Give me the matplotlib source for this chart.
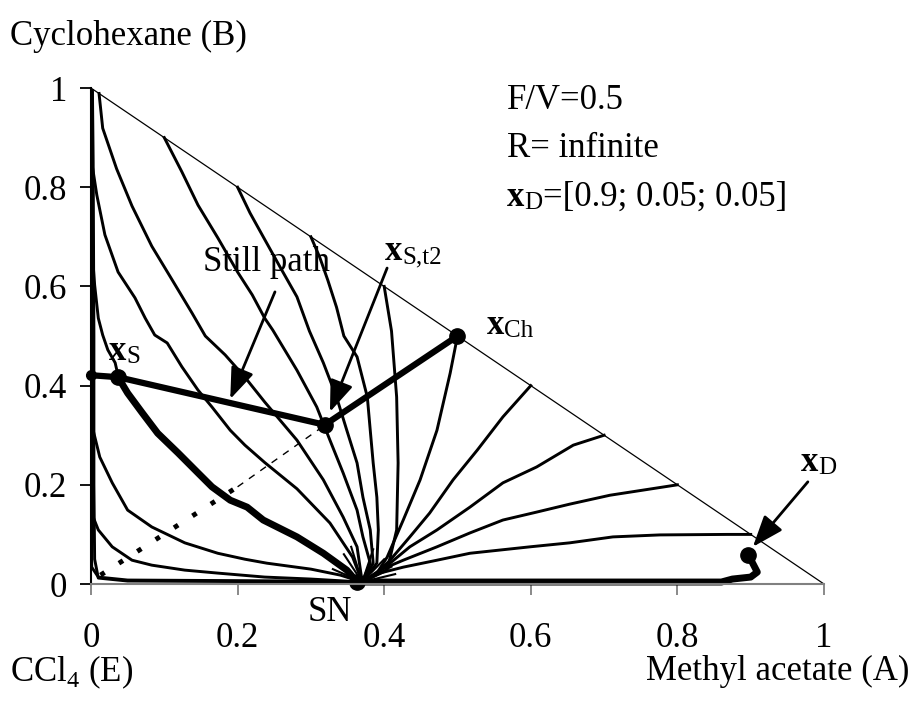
import matplotlib
matplotlib.use('Agg')
import matplotlib.pyplot as plt

plt.rcParams['font.family'] = ['Liberation Serif', 'DejaVu Serif']
plt.rcParams['mathtext.fontset'] = 'custom'
plt.rcParams['mathtext.rm'] = 'Liberation Serif'
plt.rcParams['mathtext.bf'] = 'Liberation Serif:bold'

# x = methyl acetate (A), y = cyclohexane (B); SN = saddle/stable node on A-E edge
sn = (0.37, 0.004)

# residue curves leaving the left edge (B-E)
rc_l0_x = [0.002, 0.003, 0.004, 0.004, 0.005, 0.01, 0.05, 0.2, 0.36]
rc_l0_y = [0.995, 0.85, 0.5, 0.2, 0.05, 0.012, 0.006, 0.005, 0.004]
rc_l1_x = [0.001, 0.001, 0.001, 0.003, 0.012, 0.029, 0.05, 0.083, 0.128, 0.173, 0.21, 0.24, 0.3, 0.34]
rc_l1_y = [0.99, 0.7, 0.405, 0.31, 0.256, 0.204, 0.149, 0.115, 0.083, 0.062, 0.05, 0.042, 0.03, 0.018]
rc_l2_x = [0.001, 0.001, 0.003, 0.01, 0.029, 0.056, 0.083, 0.128, 0.173, 0.237, 0.3]
rc_l2_y = [0.99, 0.19, 0.135, 0.109, 0.075, 0.048, 0.038, 0.028, 0.022, 0.014, 0.01]
rc_l3_x = [0.001, 0.001, 0.01, 0.05, 0.3]
rc_l3_y = [0.99, 0.034, 0.014, 0.008, 0.006]
rc_d_x = [0.001, 0.001, 0.008, 0.019, 0.037, 0.06, 0.074, 0.087, 0.104, 0.124, 0.146, 0.165, 0.19, 0.21, 0.237, 0.281, 0.326, 0.357]
rc_d_y = [0.99, 0.851, 0.784, 0.704, 0.629, 0.577, 0.536, 0.502, 0.486, 0.438, 0.391, 0.357, 0.31, 0.28, 0.245, 0.192, 0.123, 0.054]
rc_e_x = [0.001, 0.001, 0.005, 0.01, 0.016, 0.023, 0.033, 0.037]
rc_e_y = [0.99, 0.683, 0.603, 0.536, 0.502, 0.472, 0.446, 0.42]

# residue curves leaving the hypotenuse (A-B edge)
rc_01_x = [0.011, 0.016, 0.035, 0.056, 0.083, 0.11, 0.138, 0.156, 0.183, 0.21, 0.237, 0.281, 0.317, 0.344, 0.363]
rc_01_y = [0.989, 0.919, 0.837, 0.762, 0.681, 0.615, 0.546, 0.5, 0.462, 0.417, 0.367, 0.29, 0.21, 0.135, 0.075]
rc_10_x = [0.1, 0.124, 0.146, 0.173, 0.2, 0.22, 0.237, 0.248, 0.281, 0.308, 0.326, 0.344, 0.363, 0.371, 0.381]
rc_10_y = [0.9, 0.831, 0.764, 0.698, 0.629, 0.583, 0.536, 0.512, 0.431, 0.357, 0.29, 0.224, 0.149, 0.095, 0.042]
rc_20_x = [0.2, 0.217, 0.235, 0.258, 0.281, 0.298, 0.317, 0.335, 0.349, 0.363, 0.371, 0.381, 0.385]
rc_20_y = [0.8, 0.748, 0.7, 0.639, 0.579, 0.51, 0.446, 0.377, 0.31, 0.244, 0.175, 0.109, 0.042]
rc_30_x = [0.3, 0.312, 0.323, 0.335, 0.345, 0.363, 0.377, 0.381, 0.385, 0.39, 0.392, 0.39]
rc_30_y = [0.7, 0.659, 0.613, 0.558, 0.5, 0.458, 0.377, 0.31, 0.244, 0.175, 0.109, 0.042]
rc_40_x = [0.4, 0.41, 0.417, 0.419, 0.417, 0.404]
rc_40_y = [0.6, 0.51, 0.377, 0.244, 0.109, 0.028]
rc_50_x = [0.5, 0.49, 0.472, 0.449, 0.426, 0.404, 0.39]
rc_50_y = [0.5, 0.425, 0.31, 0.21, 0.129, 0.054, 0.022]
rc_60_x = [0.6, 0.562, 0.527, 0.494, 0.462, 0.435, 0.408, 0.39]
rc_60_y = [0.4, 0.337, 0.27, 0.21, 0.143, 0.095, 0.048, 0.022]
rc_70_x = [0.7, 0.658, 0.608, 0.562, 0.517, 0.472, 0.435, 0.408, 0.39]
rc_70_y = [0.3, 0.28, 0.236, 0.204, 0.155, 0.109, 0.075, 0.042, 0.022]
rc_80_x = [0.8, 0.708, 0.653, 0.608, 0.562, 0.517, 0.472, 0.426, 0.394]
rc_80_y = [0.2, 0.179, 0.161, 0.145, 0.129, 0.103, 0.075, 0.048, 0.028]
rc_90_x = [0.9, 0.868, 0.776, 0.712, 0.653, 0.599, 0.517, 0.472, 0.426, 0.394]
rc_90_y = [0.1, 0.1, 0.099, 0.095, 0.083, 0.075, 0.062, 0.048, 0.034, 0.022]

# short curves crowding into SN
spoke_x = [0.33, 0.345, 0.355, 0.385, 0.4, 0.41, 0.415]
spoke_y = [0.03, 0.06, 0.075, 0.07, 0.05, 0.035, 0.02]

# still path and the residue curve through xS (thick)
still_x = [0.0, 0.037, 0.319, 0.5]
still_y = [0.421, 0.417, 0.321, 0.5]
rc_s_x = [0.037, 0.05, 0.07, 0.091, 0.119, 0.146, 0.165, 0.19, 0.213, 0.235, 0.281, 0.317, 0.349, 0.363]
rc_s_y = [0.417, 0.385, 0.345, 0.304, 0.264, 0.224, 0.196, 0.169, 0.155, 0.129, 0.095, 0.062, 0.028, 0.004]
dist_x = [0.363, 0.5, 0.7, 0.86, 0.875, 0.9, 0.909, 0.902, 0.896]
dist_y = [0.004, 0.004, 0.004, 0.004, 0.01, 0.014, 0.024, 0.044, 0.058]

# dotted line E -> xS,t2
dot_x = [0.013, 0.2]
dot_y = [0.018, 0.196]
dash_x = [0.2, 0.315]
dash_y = [0.196, 0.316]

points_x = [0.037, 0.319, 0.5, 0.363, 0.896]
points_y = [0.417, 0.321, 0.5, 0.004, 0.058]

fig = plt.figure(figsize=(9.18, 7.11), dpi=100)
ax = fig.add_axes([0.0991, 0.1786, 0.7985, 0.6976])
ax.set_xlim(0, 1)
ax.set_ylim(0, 1)

ax.plot([0, 1], [1, 0], color='black', lw=0.9, clip_on=False)

left_curves = [(rc_l0_x, rc_l0_y), (rc_l1_x, rc_l1_y), (rc_l2_x, rc_l2_y),
               (rc_l3_x, rc_l3_y), (rc_d_x, rc_d_y)]
hyp_curves = [(rc_01_x, rc_01_y), (rc_10_x, rc_10_y), (rc_20_x, rc_20_y),
              (rc_30_x, rc_30_y), (rc_40_x, rc_40_y), (rc_50_x, rc_50_y),
              (rc_60_x, rc_60_y), (rc_70_x, rc_70_y), (rc_80_x, rc_80_y),
              (rc_90_x, rc_90_y)]
for cx, cy in left_curves + hyp_curves:
    ax.plot(cx + [sn[0]], cy + [sn[1]], color='black', lw=2.1, clip_on=False)
ax.plot(rc_e_x, rc_e_y, color='black', lw=2.1, clip_on=False)
for sx, sy in zip(spoke_x, spoke_y):
    ax.plot([sx, sn[0]], [sy, sn[1]], color='black', lw=1.5)

ax.plot(dot_x, dot_y, color='black', lw=3.5, ls=(0, (1, 3.5)))
ax.plot(dash_x, dash_y, color='black', lw=1.0, ls=(0, (5, 5)))

ax.plot(rc_s_x, rc_s_y, color='black', lw=5, solid_capstyle='round', clip_on=False)
ax.plot(dist_x, dist_y, color='black', lw=5, solid_capstyle='round', clip_on=False)
ax.plot(still_x, still_y, color='black', lw=4.5, clip_on=False)
ax.plot(still_x[:1], still_y[:1], 'o', color='black', ms=7, clip_on=False)
ax.plot(points_x, points_y, 'o', color='black', ms=11, clip_on=False)

arrow = dict(arrowstyle='-|>,head_length=1.2,head_width=0.45', lw=2.0,
             color='black', mutation_scale=16, shrinkA=0, shrinkB=0)
ax.annotate('', xy=(0.19, 0.373), xytext=(0.251, 0.589), arrowprops=arrow)
ax.annotate('', xy=(0.326, 0.347), xytext=(0.404, 0.637), arrowprops=arrow)
ax.annotate('', xy=(0.903, 0.075), xytext=(0.978, 0.206), arrowprops=arrow)

big = 25
small = 18
ax.text(0.24, 0.649, 'Still path', fontsize=big, ha='center', va='center')
ax.text(0.326, -0.058, 'SN', fontsize=big, ha='center', va='center', clip_on=False)


def point_label(x, y, sub, rest=None):
    t = ax.text(x, y, 'x', fontsize=big, fontweight='bold', va='baseline')
    s = ax.annotate(sub, xy=(1, 0), xycoords=t, fontsize=small, va='bottom')
    if rest:
        ax.annotate(rest, xy=(1, 0), xycoords=s, fontsize=big, va='bottom')


point_label(0.025, 0.452, 'S')
point_label(0.401, 0.653, 'S,t2')
point_label(0.54, 0.504, 'Ch')
point_label(0.968, 0.228, 'D')

ax.text(0.568, 0.958, 'F/V=0.5', fontsize=big, va='baseline')
ax.text(0.568, 0.86, 'R= infinite', fontsize=big, va='baseline')
point_label(0.568, 0.762, 'D', '=[0.9; 0.05; 0.05]')

ax.set_xticks([0, 0.2, 0.4, 0.6, 0.8, 1])
ax.set_xticklabels(['0', '0.2', '0.4', '0.6', '0.8', '1'])
ax.set_yticks([0, 0.2, 0.4, 0.6, 0.8, 1])
ax.set_yticklabels(['0', '0.2', '0.4', '0.6', '0.8', '1'])
ax.tick_params(axis='x', direction='out', length=8, width=1.3, color='gray',
               labelsize=big, pad=19)
ax.tick_params(axis='y', direction='out', length=8, width=1.3, color='black',
               labelsize=big, pad=9)
ax.spines['top'].set_visible(False)
ax.spines['right'].set_visible(False)
ax.spines['left'].set_linewidth(1.5)
ax.spines['bottom'].set_linewidth(1.5)
ax.spines['bottom'].set_color('gray')

fig.text(0.011, 0.948, 'Cyclohexane (B)', fontsize=big, va='center')
fig.text(0.011, 0.055, r'CCl$_4$ (E)', fontsize=big, va='center')
fig.text(0.991, 0.055, 'Methyl acetate (A)', fontsize=big, va='center', ha='right')

fig.savefig('out.png', dpi=100)
